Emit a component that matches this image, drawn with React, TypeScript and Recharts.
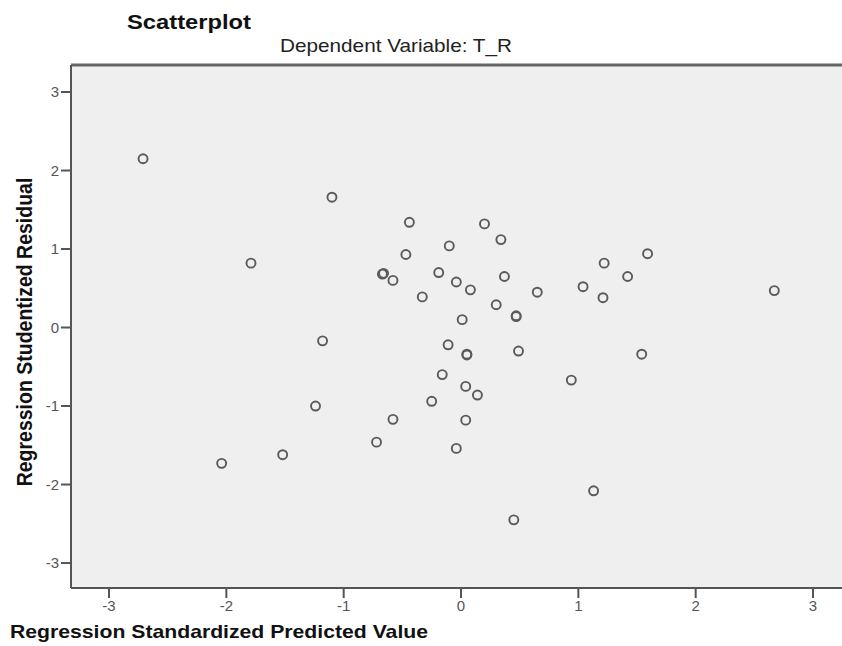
import React from "react";
import {
  ScatterChart,
  Scatter,
  XAxis,
  YAxis,
  CartesianGrid,
  ReferenceLine,
} from "recharts";

// Regression Standardized Predicted Value
const predicted = [
  -2.71, -1.1, -1.79, -0.44, -0.47, -0.67, -0.66, -0.58, -0.33, -0.19, -0.1,
  -0.04, 0.08, 0.2, 0.34, 0.37, 0.3, 0.47, 0.47, 0.65, 0.01, 1.04, 1.22, 1.21,
  1.42, 1.59, 2.67, -1.18, -0.11, 0.05, 0.05, 0.49, 1.54, -0.16, 0.04, 0.14,
  -0.25, -1.24, 0.94, -0.58, 0.04, -0.72, -0.04, -1.52, -2.04, 1.13, 0.45,
];

// Regression Studentized Residual
const residual = [
  2.15, 1.66, 0.82, 1.34, 0.93, 0.68, 0.69, 0.6, 0.39, 0.7, 1.04, 0.58, 0.48,
  1.32, 1.12, 0.65, 0.29, 0.15, 0.14, 0.45, 0.1, 0.52, 0.82, 0.38, 0.65, 0.94,
  0.47, -0.17, -0.22, -0.34, -0.35, -0.3, -0.34, -0.6, -0.75, -0.86, -0.94,
  -1.0, -0.67, -1.17, -1.18, -1.46, -1.54, -1.62, -1.73, -2.08, -2.45,
];

const ticks = [-3, -2, -1, 0, 1, 2, 3];

const data = predicted.map((x, i) => ({ x, y: residual[i] }));

const FONT = '"Liberation Sans", Arial, sans-serif';

const Ring = (props: any) => (
  <circle
    cx={props.cx}
    cy={props.cy}
    r={4.5}
    fill="none"
    stroke="#5a5a5a"
    strokeWidth={1.9}
  />
);

const XTitle = () => (
  <text
    x={10}
    y={638}
    fontFamily={FONT}
    fontWeight="bold"
    fontSize={18.5}
    fill="#111"
    textLength={418}
    lengthAdjust="spacingAndGlyphs"
  >
    Regression Standardized Predicted Value
  </text>
);

const YTitle = () => (
  <text
    transform="translate(32,332) scale(1.15,1) rotate(-90)"
    textAnchor="middle"
    fontFamily={FONT}
    fontWeight="bold"
    fontSize={19.5}
    fill="#111"
  >
    Regression Studentized Residual
  </text>
);

export default function App() {
  return (
    <div
      style={{
        position: "absolute",
        left: 0,
        top: 0,
        width: 842,
        height: 646,
        background: "#fff",
      }}
    >
      <ScatterChart
        width={842}
        height={646}
        margin={{ top: 65, right: 0, bottom: 0, left: 0 }}
      >
        <CartesianGrid horizontal={false} vertical={false} fill="#efefef" />
        <XAxis
          type="number"
          dataKey="x"
          domain={[-3.324, 3.247]}
          ticks={ticks}
          interval={0}
          allowDataOverflow
          height={58}
          tickSize={10}
          stroke="#555"
          strokeWidth={2}
          tickLine={{ stroke: "#555", strokeWidth: 2 }}
          tick={{ fill: "#555", fontSize: 15, fontFamily: FONT }}
          label={<XTitle />}
        />
        <YAxis
          type="number"
          dataKey="y"
          domain={[-3.318, 3.344]}
          ticks={ticks}
          interval={0}
          allowDataOverflow
          width={71}
          tickSize={10}
          stroke="#555"
          strokeWidth={2}
          tickLine={{ stroke: "#555", strokeWidth: 2 }}
          tick={{ fill: "#555", fontSize: 15, fontFamily: FONT }}
          label={<YTitle />}
        />
        <ReferenceLine y={3.344} stroke="#666" strokeWidth={3} />
        <Scatter data={data} shape={Ring} isAnimationActive={false} />
      </ScatterChart>
      <svg
        width={842}
        height={64}
        style={{ position: "absolute", left: 0, top: 0, pointerEvents: "none" }}
      >
        <text
          x={127}
          y={29}
          fontFamily={FONT}
          fontWeight="bold"
          fontSize={20}
          fill="#111"
          textLength={124}
          lengthAdjust="spacingAndGlyphs"
        >
          Scatterplot
        </text>
        <text
          x={280}
          y={52}
          fontFamily={FONT}
          fontSize={18.5}
          fill="#222"
          textLength={232}
          lengthAdjust="spacingAndGlyphs"
        >
          Dependent Variable: T_R
        </text>
      </svg>
    </div>
  );
}
